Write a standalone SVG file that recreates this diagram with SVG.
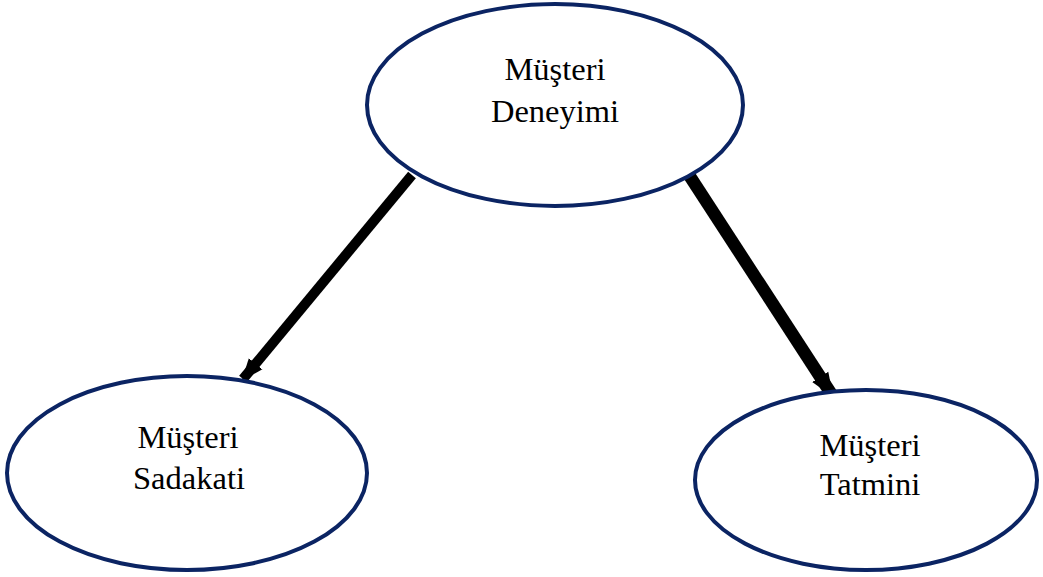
<svg xmlns="http://www.w3.org/2000/svg" width="1043" height="577" viewBox="0 0 1043 577">
<style>
.node{fill:#fff;stroke:#0b2463;stroke-width:4}
.lbl{font-family:"Liberation Serif","Times New Roman",serif;font-size:32.5px;fill:#000;text-anchor:middle}
.edge{stroke:#000;stroke-width:10;fill:none}
.thick{stroke-width:12.5}
</style>
<defs>
<marker id="ah" markerUnits="userSpaceOnUse" markerWidth="22" markerHeight="22" viewBox="0 0 20 20" refX="18" refY="10" orient="auto">
<path d="M0,2 L20,10 L0,18 Z" fill="#000"/>
</marker>
<marker id="ah2" markerUnits="userSpaceOnUse" markerWidth="24" markerHeight="24" viewBox="0 0 20 20" refX="18" refY="10" orient="auto">
<path d="M0,2 L20,10 L0,18 Z" fill="#000"/>
</marker>
</defs>
<rect width="1043" height="577" fill="#fff"/>
<g id="connectors">
<line class="edge" x1="412" y1="175" x2="243" y2="379" marker-end="url(#ah)"/>
<line class="edge thick" x1="689" y1="175" x2="832" y2="395" marker-end="url(#ah2)"/>
</g>
<g id="node-deneyim">
<ellipse class="node" cx="555" cy="105" rx="188" ry="101"/>
<text class="lbl" x="555" y="80">Müşteri</text>
<text class="lbl" x="555" y="122">Deneyimi</text>
</g>
<g id="node-sadakat">
<ellipse class="node" cx="187" cy="473" rx="180" ry="97"/>
<text class="lbl" x="188" y="448">Müşteri</text>
<text class="lbl" x="189" y="489">Sadakati</text>
</g>
<g id="node-tatmin">
<ellipse class="node" cx="866" cy="480" rx="171" ry="90"/>
<text class="lbl" x="870" y="456">Müşteri</text>
<text class="lbl" x="870" y="495">Tatmini</text>
</g>
</svg>
